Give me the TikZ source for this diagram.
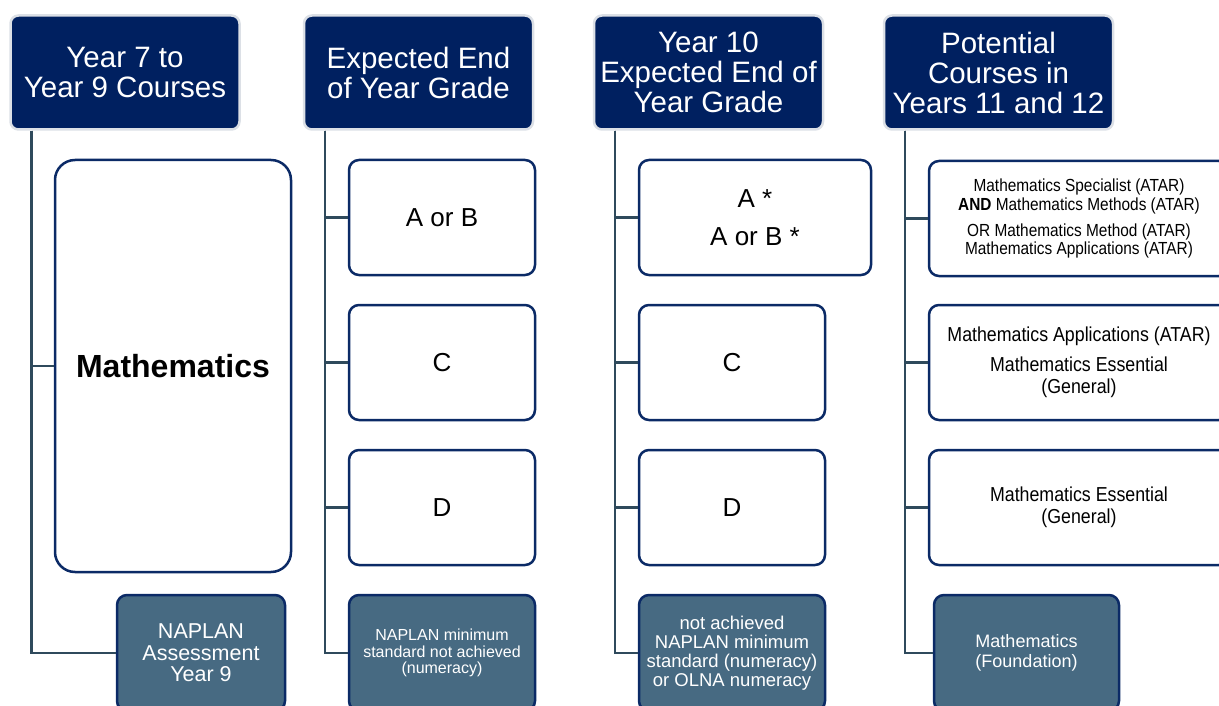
\documentclass[tikz,border=0pt]{standalone}
\usepackage{fontspec}
\setmainfont{Liberation Sans}
\newfontfamily\narrowfont[FakeStretch=0.88]{Liberation Sans}
\definecolor{navy}{HTML}{002060}
\definecolor{navyline}{HTML}{0B2A66}
\definecolor{hdrborder}{HTML}{DCE0E6}
\definecolor{slate}{HTML}{476A82}
\definecolor{conncol}{HTML}{2F4A5C}
\tikzset{
  hdr/.style={draw=hdrborder, line width=2.5pt, fill=navy, rounded corners=8pt, text=white,
    minimum width=229pt, minimum height=114pt, align=center, inner sep=0pt,
    font=\fontsize{29.5}{30}\selectfont},
  wbox/.style={draw=navyline, line width=2.5pt, fill=white, rounded corners=10pt,
    align=center, inner sep=0pt, minimum height=115pt},
  gbox/.style={draw=navyline, line width=2.5pt, fill=slate, rounded corners=10pt, text=white,
    align=center, inner sep=0pt, minimum height=116pt},
  conn/.style={draw=conncol, line width=2.5pt},
  grade/.style={font=\fontsize{26}{38}\selectfont},
}
\begin{document}
\begin{tikzpicture}[x=1pt,y=-1pt]
\useasboundingbox (0,0) rectangle (1219,706);
\clip (0,0) rectangle (1219,706);
% headers
\node[hdr] (h1) at (125,72.5) {Year 7 to\\Year 9 Courses};
\node[hdr] (h2) at (418.5,72.5) {Expected End\\of Year Grade};
\node[hdr] (h3) at (708.5,72.5) {Year 10\\Expected End of\\Year Grade};
\node[hdr] (h4) at (998.5,72.5) {Potential\\Courses in\\Years 11 and 12};
% column 1
\node[wbox, rounded corners=20pt, minimum width=236pt, minimum height=412pt,
  font=\fontsize{32}{34}\selectfont\bfseries] (math) at (173,366) {Mathematics};
\node[gbox, minimum width=168pt, font=\fontsize{21.5}{21.5}\selectfont] (nap1) at (201,653)
  {NAPLAN\\Assessment\\Year 9};
% column 2
\node[wbox, minimum width=186pt, grade] (g2a) at (442,217.5) {A or B};
\node[wbox, minimum width=186pt, grade] (g2c) at (442,362.5) {C};
\node[wbox, minimum width=186pt, grade] (g2d) at (442,507.5) {D};
\node[gbox, minimum width=186pt, font=\fontsize{16}{16.5}\selectfont] (nap2) at (442,653)
  {NAPLAN minimum\\standard not achieved\\(numeracy)};
% column 3
\node[wbox, minimum width=232pt, grade] (g3a) at (755,217.5) {A *\\A or B *};
\node[wbox, minimum width=186pt, grade] (g3c) at (732,362.5) {C};
\node[wbox, minimum width=186pt, grade] (g3d) at (732,507.5) {D};
\node[gbox, minimum width=186pt, font=\fontsize{18.5}{19}\selectfont] (nap3) at (732,653)
  {not achieved\\NAPLAN minimum\\standard (numeracy)\\or OLNA numeracy};
% column 4
\node[wbox, minimum width=300pt, font=\narrowfont\fontsize{17.5}{18.5}\selectfont] (c4a) at (1079,218.5)
  {Mathematics Specialist (ATAR)\\\textbf{AND} Mathematics Methods (ATAR)\\[7.5pt]
   OR Mathematics Method (ATAR)\\Mathematics Applications (ATAR)};
\node[wbox, minimum width=300pt, font=\narrowfont\fontsize{20.2}{22}\selectfont] (c4b) at (1079,362.5)
  {Mathematics Applications (ATAR)\\[7.5pt]Mathematics Essential\\(General)};
\node[wbox, minimum width=300pt, font=\narrowfont\fontsize{20.2}{22.5}\selectfont] (c4c) at (1079,507.5)
  {Mathematics Essential\\(General)};
\node[gbox, minimum width=185pt, font=\fontsize{18}{19.5}\selectfont] (nap4) at (1026.5,653)
  {Mathematics\\(Foundation)};
% connectors
\draw[conn] ([xshift=22pt]h1.south west) |- (math.west);
\draw[conn] ([xshift=22pt]h1.south west) |- (nap1.west);
\foreach \h/\a/\b/\c/\d in {h2/g2a/g2c/g2d/nap2, h3/g3a/g3c/g3d/nap3, h4/c4a/c4b/c4c/nap4}{
  \draw[conn] ([xshift=22pt]\h.south west) |- (\a.west);
  \draw[conn] ([xshift=22pt]\h.south west) |- (\b.west);
  \draw[conn] ([xshift=22pt]\h.south west) |- (\c.west);
  \draw[conn] ([xshift=22pt]\h.south west) |- (\d.west);
}
\end{tikzpicture}
\end{document}
